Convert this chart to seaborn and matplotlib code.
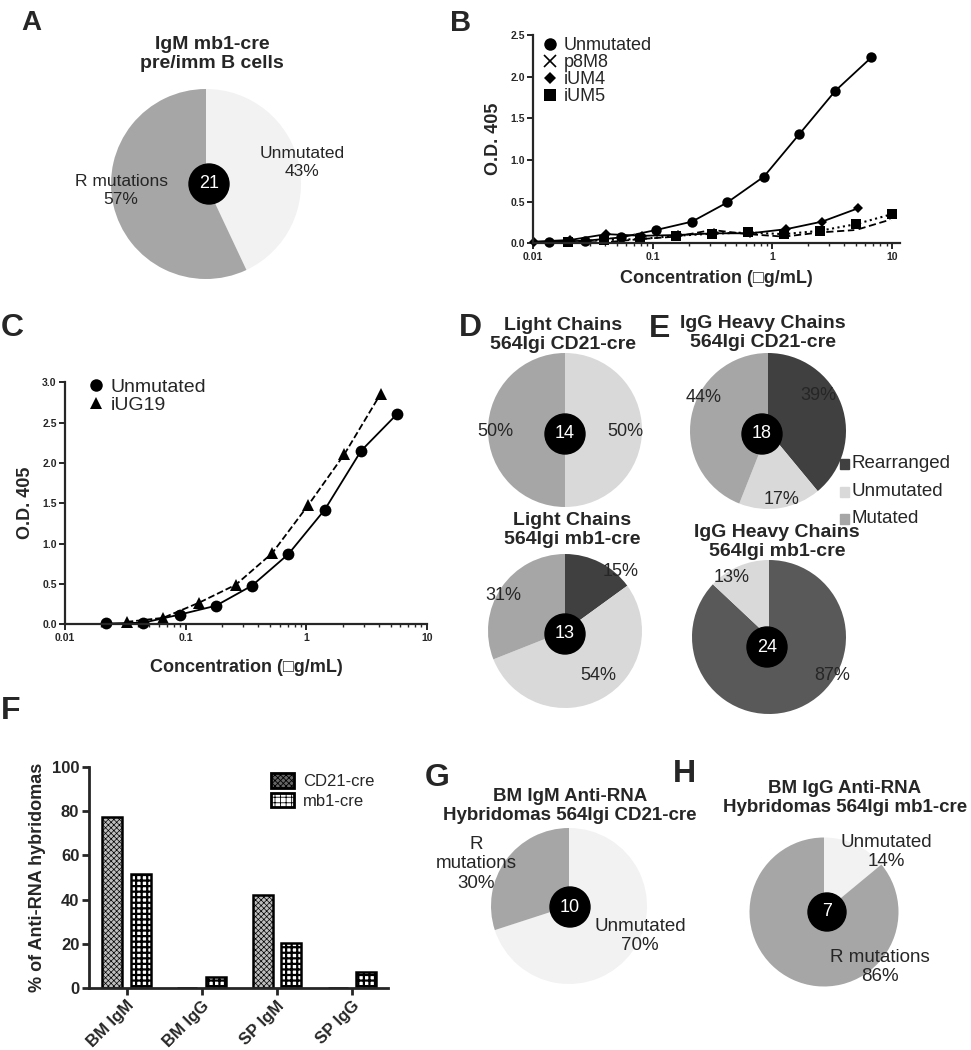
import matplotlib
matplotlib.use('Agg')
import numpy as np
import pandas as pd
import matplotlib.pyplot as plt
import seaborn as sns
from matplotlib.patches import Circle, Rectangle, Patch
from matplotlib.lines import Line2D
from matplotlib.ticker import FixedLocator, FuncFormatter, LogLocator, NullFormatter

sns.set_style('ticks')
plt.rcParams['font.family'] = ['Liberation Sans', 'DejaVu Sans']
plt.rcParams['hatch.linewidth'] = 0.6

# ---- data ----
# A: IgM mb1-cre pre/imm B cells
a_labels = ['Unmutated', 'R mutations']
a_vals = [43, 57]
a_n = 21

# B: ELISA, Unmutated vs p8M8 / iUM4 / iUM5
b_unmut_conc = [0.0135, 0.027, 0.054, 0.107, 0.213, 0.42, 0.85, 1.68, 3.36, 6.71]
b_unmut_od = [0.02, 0.03, 0.07, 0.16, 0.26, 0.49, 0.80, 1.31, 1.83, 2.23]
b_ium4_conc = [0.0102, 0.0205, 0.041, 0.082, 0.164, 0.327, 0.655, 1.31, 2.6, 5.2]
b_ium4_od = [0.02, 0.04, 0.11, 0.09, 0.10, 0.12, 0.12, 0.17, 0.26, 0.42]
b_ium5_conc = [0.0195, 0.039, 0.078, 0.156, 0.3125, 0.625, 1.25, 2.5, 5.0, 10.0]
b_ium5_od = [0.02, 0.04, 0.05, 0.09, 0.115, 0.13, 0.11, 0.15, 0.23, 0.35]
b_p8m8_conc = [0.0195, 0.039, 0.078, 0.156, 0.3125, 0.625, 1.25, 2.5, 5.0, 10.0]
b_p8m8_od = [0.02, 0.01, 0.05, 0.08, 0.16, 0.11, 0.08, 0.13, 0.16, 0.29]

# C: ELISA, Unmutated vs iUG19
c_unmut_conc = [0.022, 0.0446, 0.089, 0.178, 0.355, 0.71, 1.42, 2.84, 5.68]
c_unmut_od = [0.01, 0.02, 0.12, 0.23, 0.48, 0.87, 1.42, 2.15, 2.61]
c_iug19_conc = [0.0324, 0.065, 0.13, 0.26, 0.52, 1.04, 2.07, 4.14]
c_iug19_od = [0.03, 0.08, 0.27, 0.49, 0.88, 1.48, 2.11, 2.86]

# D / E: slices in order Rearranged, Unmutated, Mutated (clockwise from top)
d_top_vals = [0, 50, 50]
d_top_n = 14
d_bot_vals = [15, 54, 31]
d_bot_n = 13
e_top_vals = [39, 17, 44]
e_top_n = 18
e_bot_vals = [87, 13, 0]
e_bot_n = 24
de_labels = ['Rearranged', 'Unmutated', 'Mutated']

# F: % anti-RNA hybridomas
f_groups = ['BM IgM', 'BM IgG', 'SP IgM', 'SP IgG']
f_cd21 = [77.5, 0, 42, 0]
f_mb1 = [51.5, 5, 20.5, 7.5]

# G / H
g_vals = [70, 30]   # Unmutated, R mutations
g_n = 10
h_vals = [14, 86]
h_n = 7

# ---- layout helpers (pixel coords, origin top-left) ----
W, H = 971, 1050
fig = plt.figure(figsize=(W / 100, H / 100), dpi=100)


def px_axes(x0, y0, x1, y1):
    return fig.add_axes([x0 / W, 1 - y1 / H, (x1 - x0) / W, (y1 - y0) / H])


def ftext(x, y, s, **kw):
    kw.setdefault('ha', 'center')
    kw.setdefault('va', 'center')
    fig.text(x / W, 1 - y / H, s, **kw)


def draw_pie(cx, cy, r, values, colors, n, dot=(0, 0), dot_r=20):
    ax = px_axes(cx - r, cy - r, cx + r, cy + r)
    ax.pie(values, colors=colors, startangle=90, counterclock=False,
           wedgeprops=dict(linewidth=0))
    ax.set_xlim(-1, 1)
    ax.set_ylim(-1, 1)
    dx, dy = dot[0] / r, -dot[1] / r
    ax.add_patch(Circle((dx, dy), dot_r / r, color='black', zorder=5, clip_on=False))
    ax.text(dx, dy, str(n), color='white', ha='center', va='center', fontsize=13, zorder=6)
    return ax


def style_elisa(ax, xmax, ymax, ystep):
    ax.set_xscale('log')
    ax.set_xlim(0.01, xmax)
    ax.set_ylim(0, ymax)
    ax.xaxis.set_major_locator(FixedLocator([0.01, 0.1, 1, 10]))
    ax.xaxis.set_major_formatter(FuncFormatter(lambda v, p: '%g' % v))
    ax.xaxis.set_minor_locator(LogLocator(base=10, subs=np.arange(2, 10)))
    ax.xaxis.set_minor_formatter(NullFormatter())
    ax.set_yticks(np.arange(0, ymax + 0.01, ystep))
    ax.yaxis.set_major_formatter(FuncFormatter(lambda v, p: '%.1f' % v))
    sns.despine(ax=ax)
    for s in ['left', 'bottom']:
        ax.spines[s].set_linewidth(1.6)
    ax.tick_params(axis='both', which='major', direction='out', length=4, width=1.4,
                   labelsize=7.5, pad=2)
    ax.tick_params(axis='x', which='minor', direction='out', length=2.5, width=1)
    for t in ax.get_xticklabels() + ax.get_yticklabels():
        t.set_fontweight('bold')
    ax.set_xlabel('Concentration (\u25a1g/mL)', fontsize=13, fontweight='bold')
    ax.set_ylabel('O.D. 405', fontsize=13, fontweight='bold')


# ---- panel letters ----
for letter, x, y, fs in [('A', 31, 23, 20), ('B', 461, 23, 21), ('C', 12, 328, 23),
                         ('D', 470, 328, 23), ('E', 660, 329, 23), ('F', 11, 711, 23),
                         ('G', 437, 778, 23), ('H', 684, 774, 23)]:
    ftext(x, y, letter, fontsize=fs, fontweight='bold')

# ---- A ----
light, mid, pale, dark, dark2 = '#f2f2f2', '#a6a6a6', '#d9d9d9', '#404040', '#595959'
draw_pie(206, 184, 95, a_vals, [light, mid], a_n, dot=(3, 0))
ftext(212, 54, 'IgM mb1-cre\npre/imm B cells', fontsize=14, fontweight='bold', linespacing=1.15)
ftext(302, 163, f'{a_labels[0]}\n{a_vals[0]}%', fontsize=12.5, linespacing=1.25)
ftext(121, 191, f'{a_labels[1]}\n{a_vals[1]}%', fontsize=12.5, linespacing=1.25)

# ---- B ----
axB = px_axes(533, 35, 900, 243.3)
sns.lineplot(x=b_unmut_conc, y=b_unmut_od, ax=axB, color='black', marker='o',
             markersize=7.5, markeredgewidth=0, linestyle='-', linewidth=1.3, clip_on=False)
sns.lineplot(x=b_p8m8_conc, y=b_p8m8_od, ax=axB, color='black', marker='x',
             markersize=7, markeredgewidth=1.2, linestyle=(0, (4, 2)), linewidth=1.3, clip_on=False)
sns.lineplot(x=b_ium4_conc, y=b_ium4_od, ax=axB, color='black', marker='D',
             markersize=5.5, markeredgewidth=0, linestyle='-', linewidth=1.3, clip_on=False)
sns.lineplot(x=b_ium5_conc, y=b_ium5_od, ax=axB, color='black', marker='s',
             markersize=7.5, markeredgewidth=0, linestyle=':', linewidth=1.5, clip_on=False)
style_elisa(axB, 10 ** (1 + 8 / 119.7), 2.5, 0.5)
axB.xaxis.labelpad = 6
axB.yaxis.labelpad = 6
b_handles = [Line2D([], [], color='black', marker=m, linestyle='none', markersize=ms,
                    markeredgewidth=mew)
             for m, ms, mew in [('o', 9, 0), ('x', 8, 1.2), ('D', 6.5, 0), ('s', 8.5, 0)]]
axB.legend(b_handles, ['Unmutated', 'p8M8', 'iUM4', 'iUM5'], loc='upper left',
           bbox_to_anchor=(543 / W, 1 - 37 / H), bbox_transform=fig.transFigure,
           frameon=False, fontsize=13, handlelength=0.8, handletextpad=0.35,
           labelspacing=0.0, borderpad=0, borderaxespad=0)

# ---- C ----
axC = px_axes(65, 382.3, 427, 624.3)
sns.lineplot(x=c_unmut_conc, y=c_unmut_od, ax=axC, color='black', marker='o',
             markersize=8.5, markeredgewidth=0, linestyle='-', linewidth=1.3, clip_on=False)
sns.lineplot(x=c_iug19_conc, y=c_iug19_od, ax=axC, color='black', marker='^',
             markersize=8, markeredgewidth=0, linestyle='--', linewidth=1.3, clip_on=False)
style_elisa(axC, 10, 3.0, 0.5)
axC.xaxis.labelpad = 12
axC.yaxis.labelpad = 6
c_handles = [Line2D([], [], color='black', marker=m, linestyle='none', markersize=ms,
                    markeredgewidth=0) for m, ms in [('o', 9), ('^', 9)]]
axC.legend(c_handles, ['Unmutated', 'iUG19'], loc='upper left',
           bbox_to_anchor=(88 / W, 1 - 378 / H), bbox_transform=fig.transFigure,
           frameon=False, fontsize=14, handlelength=0.8, handletextpad=0.35,
           labelspacing=0.05, borderpad=0, borderaxespad=0)

# ---- D ----
de_colors = [dark, pale, mid]
draw_pie(565, 430, 77, d_top_vals, de_colors, d_top_n, dot=(0, 4))
ftext(563, 335, 'Light Chains\n564Igi CD21-cre', fontsize=14, fontweight='bold', linespacing=1.1)
ftext(495, 431, f'{d_top_vals[2]}%', fontsize=13)
ftext(625, 431, f'{d_top_vals[1]}%', fontsize=13)

draw_pie(565, 631, 77, d_bot_vals, de_colors, d_bot_n, dot=(0, 3))
ftext(572, 530, 'Light Chains\n564Igi mb1-cre', fontsize=14, fontweight='bold', linespacing=1.1)
ftext(621, 572, f'{d_bot_vals[0]}%', fontsize=13)
ftext(503, 595, f'{d_bot_vals[2]}%', fontsize=13)
ftext(598, 675, f'{d_bot_vals[1]}%', fontsize=13)

# ---- E ----
draw_pie(768, 431, 78, e_top_vals, de_colors, e_top_n, dot=(-6, 3))
ftext(763, 333, 'IgG Heavy Chains\n564Igi CD21-cre', fontsize=14, fontweight='bold', linespacing=1.1)
ftext(818, 395, f'{e_top_vals[0]}%', fontsize=13)
ftext(782, 499, f'{e_top_vals[1]}%', fontsize=13)
ftext(704, 398, f'{e_top_vals[2]}%', fontsize=13)

draw_pie(769, 637, 77, e_bot_vals, [dark2, pale, mid], e_bot_n, dot=(-2, 10))
ftext(777, 542, 'IgG Heavy Chains\n564Igi mb1-cre', fontsize=14, fontweight='bold', linespacing=1.1)
ftext(732, 577, f'{e_bot_vals[1]}%', fontsize=13)
ftext(832, 675, f'{e_bot_vals[0]}%', fontsize=13)

# E legend
for i, (lab, col) in enumerate(zip(de_labels, de_colors)):
    y = 464 + i * 27.5
    fig.add_artist(Rectangle((840 / W, 1 - (y + 5) / H), 9 / W, 10 / H,
                             transform=fig.transFigure, color=col))
    ftext(851, y, lab, fontsize=13.5, ha='left')

# ---- F ----
axF = px_axes(89, 766.7, 388, 988.3)
f_df = pd.DataFrame({
    'group': f_groups * 2,
    'pct': f_cd21 + f_mb1,
    'strain': ['CD21-cre'] * len(f_groups) + ['mb1-cre'] * len(f_groups),
})
sns.barplot(data=f_df, x='group', y='pct', hue='strain', ax=axF, width=0.76, gap=0.3,
            legend=False, errorbar=None)
hatches = {0: ('xxxxxx', 0.5, '#bdbdbd'), 1: ('+++', 1.6, 'white')}
for ci, cont in enumerate(axF.containers):
    h, hlw, fc = hatches[ci]
    for p in cont:
        p.set_facecolor(fc)
        p.set_edgecolor('black')
        p.set_linewidth(1.8)
        p.set_hatch(h)
        if hasattr(p, 'set_hatch_linewidth'):
            p.set_hatch_linewidth(hlw)
axF.set_xlim(-0.5, 3.48)
axF.set_ylim(0, 100)
axF.set_yticks([0, 20, 40, 60, 80, 100])
sns.despine(ax=axF)
for s in ['left', 'bottom']:
    axF.spines[s].set_linewidth(2)
axF.tick_params(axis='both', direction='out', length=5, width=2, labelsize=12, pad=2)
axF.set_xticks(range(len(f_groups)))
axF.set_xticklabels(f_groups, rotation=45, ha='right', rotation_mode='anchor',
                    fontweight='bold', fontsize=12)
for t in axF.get_yticklabels():
    t.set_fontweight('bold')
axF.set_xlabel('')
axF.set_ylabel('% of Anti-RNA hybridomas', fontsize=13, fontweight='bold', labelpad=4)
f_handles = []
for ci, lab in enumerate(['CD21-cre', 'mb1-cre']):
    hp = Patch(facecolor='#666666' if ci == 0 else 'white', edgecolor='black',
               linewidth=2, hatch=hatches[ci][0])
    f_handles.append(hp)
axF.legend(f_handles, ['CD21-cre', 'mb1-cre'], loc='upper left',
           bbox_to_anchor=(271 / W, 1 - 773 / H), bbox_transform=fig.transFigure,
           frameon=False, fontsize=12, handlelength=1.4, handleheight=1.0,
           handletextpad=0.5, labelspacing=0.2, borderpad=0, borderaxespad=0)

# ---- G ----
draw_pie(569, 906, 78, g_vals, [light, mid], g_n, dot=(1, 1))
ftext(570, 806, 'BM IgM Anti-RNA\nHybridomas 564Igi CD21-cre', fontsize=13.5,
      fontweight='bold', linespacing=1.12)
ftext(476, 864, f'R\nmutations\n{g_vals[1]}%', fontsize=13.5, linespacing=1.2)
ftext(640, 936, f'Unmutated\n{g_vals[0]}%', fontsize=13.5, linespacing=1.2)

# ---- H ----
draw_pie(824, 912, 74.5, h_vals, [light, mid], h_n, dot=(3, 0), dot_r=19)
ftext(845, 798, 'BM IgG Anti-RNA\nHybridomas 564Igi mb1-cre', fontsize=13.5,
      fontweight='bold', linespacing=1.12)
ftext(886, 852, f'Unmutated\n{h_vals[0]}%', fontsize=13.5, linespacing=1.2)
ftext(880, 967, f'R mutations\n{h_vals[1]}%', fontsize=13.5, linespacing=1.2)

fig.savefig('out.png', dpi=100)
